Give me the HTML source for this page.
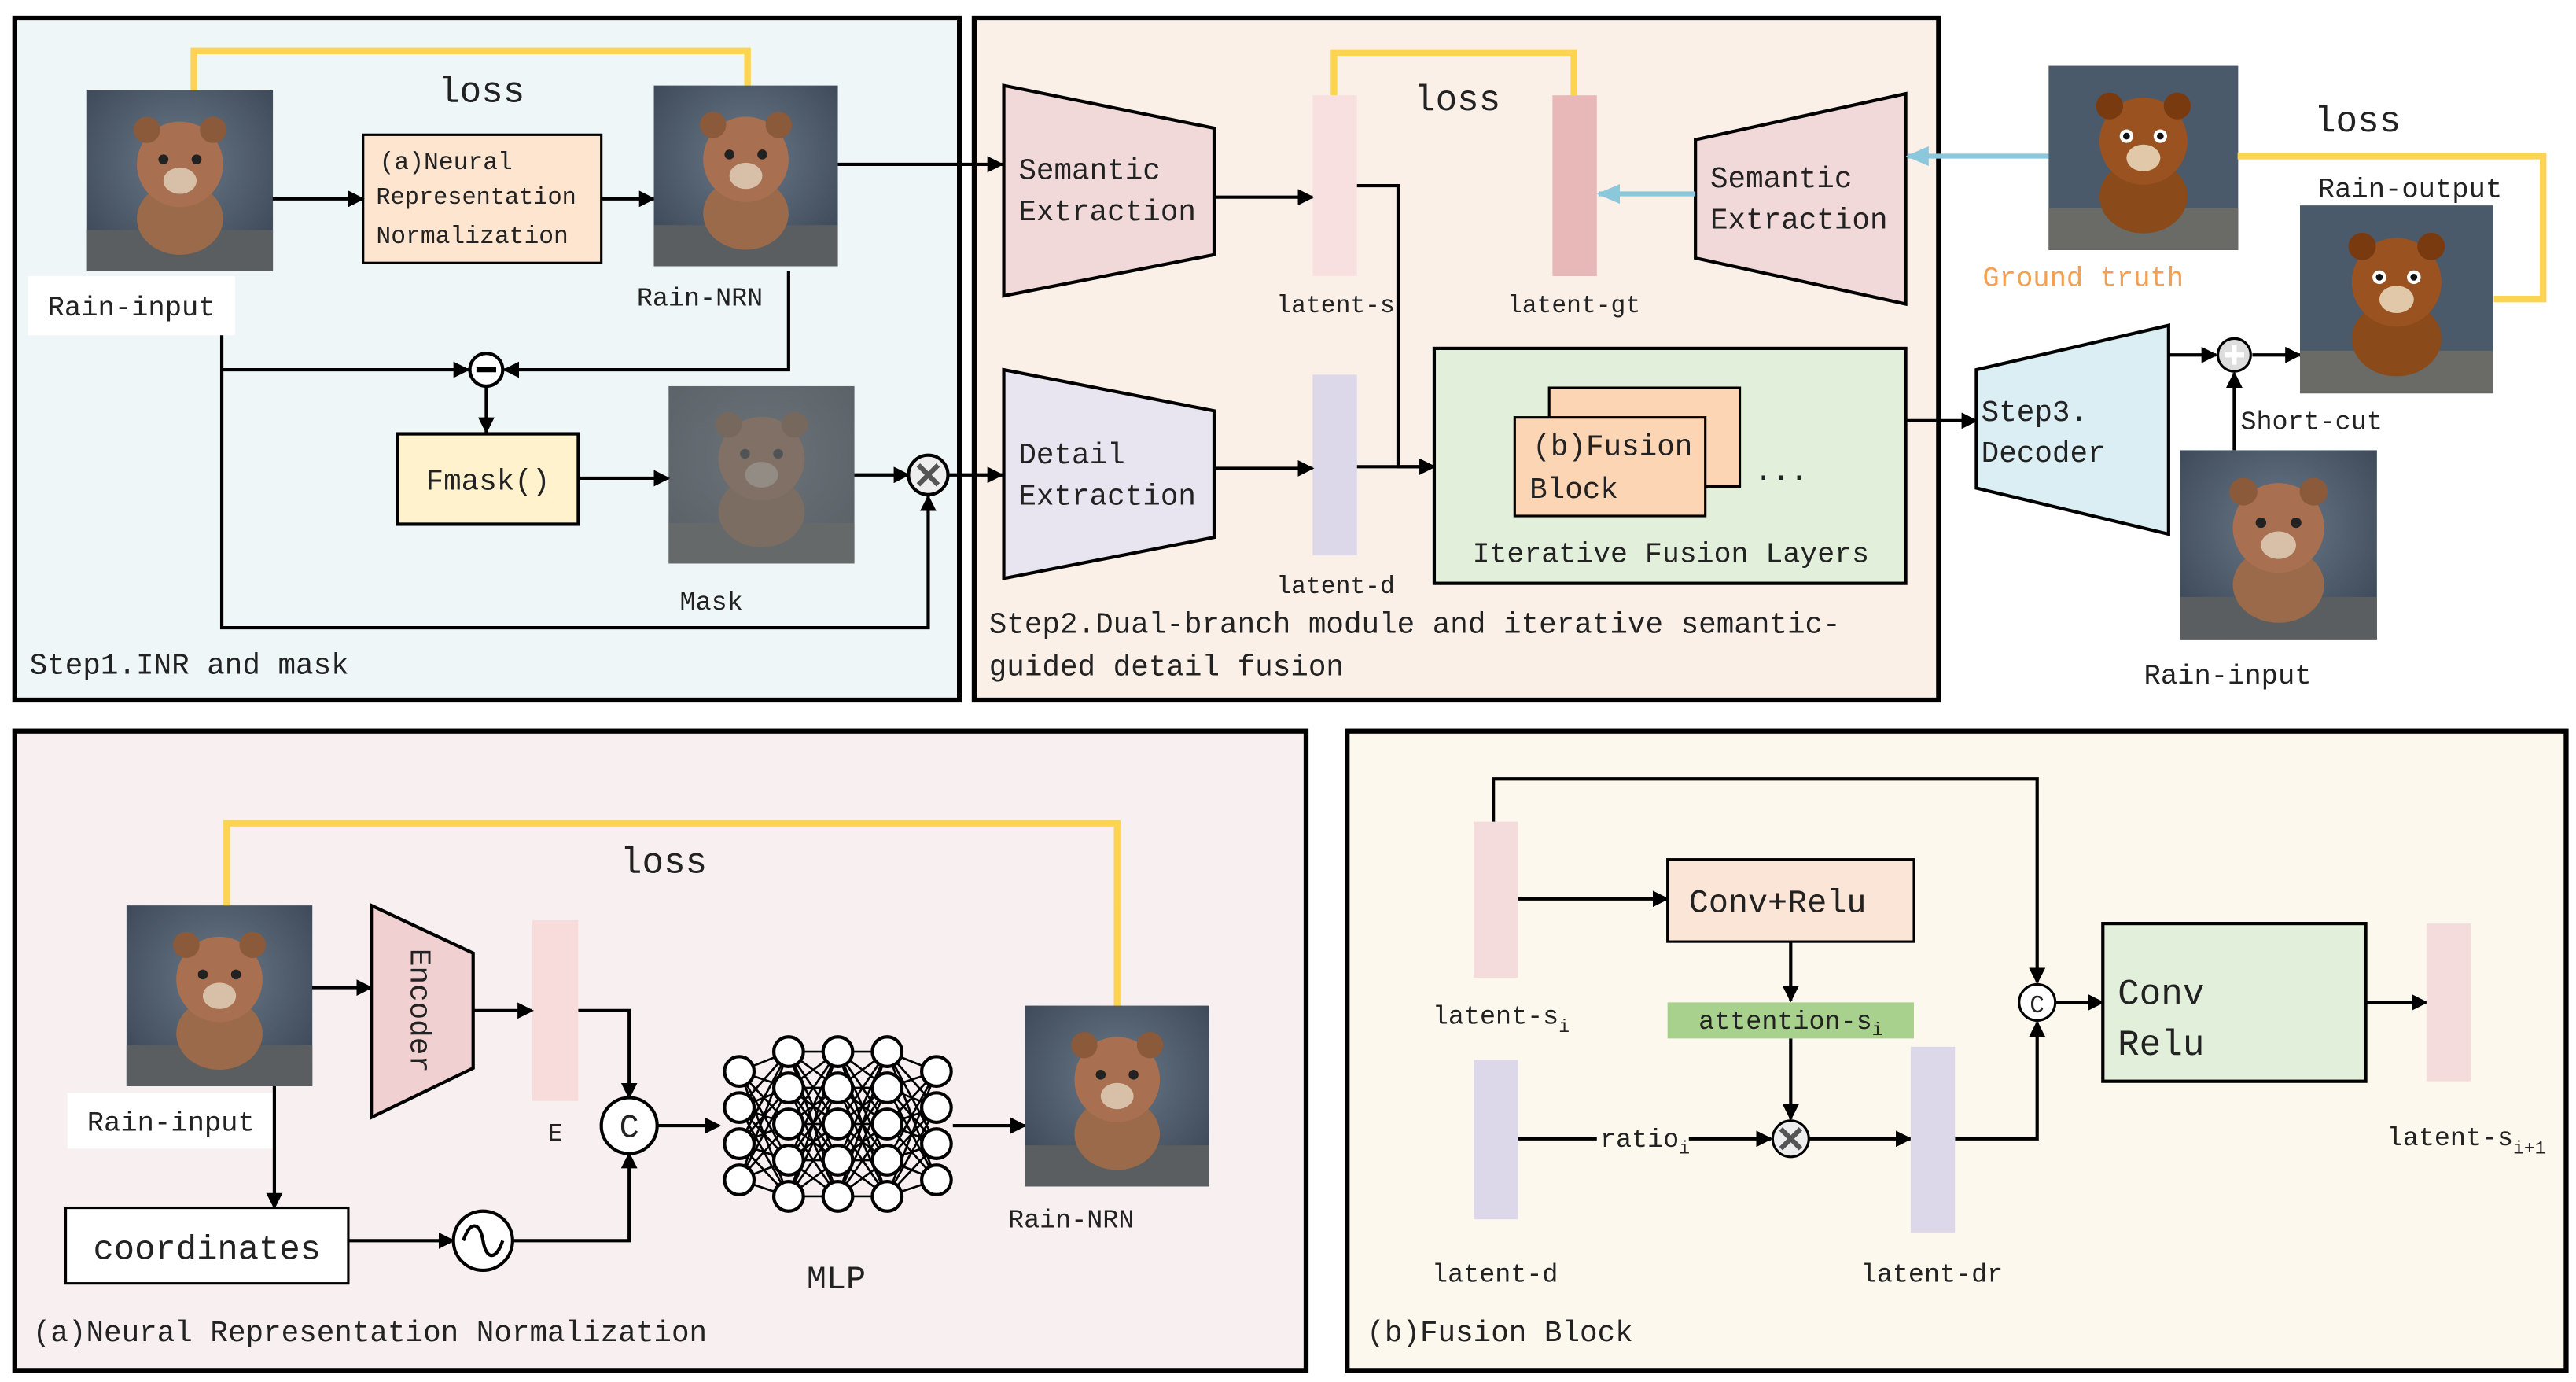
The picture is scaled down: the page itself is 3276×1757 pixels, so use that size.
<!DOCTYPE html>
<html><head><meta charset="utf-8"><style>html,body{margin:0;padding:0;background:#fff}svg{display:block}text{font-family:"Liberation Mono","DejaVu Sans Mono",monospace;fill:#222}</style></head>
<body>
<svg width="3276" height="1757" viewBox="0 0 1568 841" preserveAspectRatio="none" xmlns="http://www.w3.org/2000/svg">
<defs>
<marker id="ar" markerWidth="10" markerHeight="10" refX="9" refY="5" orient="auto" markerUnits="userSpaceOnUse"><path d="M0,0 L10,5 L0,10 z" fill="#000"/></marker>
<marker id="ab" markerWidth="14" markerHeight="12" refX="13" refY="6" orient="auto" markerUnits="userSpaceOnUse"><path d="M0,0 L14,6 L0,12 z" fill="#8cc8dc"/></marker>
<radialGradient id="bg1" cx="50%" cy="40%" r="70%"><stop offset="0" stop-color="#6a7888"/><stop offset="1" stop-color="#3a4656"/></radialGradient>
<g id="bear">
<rect x="0" y="0" width="112" height="110" fill="url(#bg1)"/>
<rect x="0" y="85" width="112" height="25" fill="#5a5e60"/>
<ellipse cx="56" cy="78" rx="26" ry="22" fill="#9a6a4a"/>
<circle cx="56" cy="45" r="26" fill="#a87050"/>
<circle cx="36" cy="24" r="8" fill="#8a5a3a"/><circle cx="76" cy="24" r="8" fill="#8a5a3a"/>
<ellipse cx="56" cy="55" rx="10" ry="8" fill="#d8c0a8"/>
<circle cx="46" cy="42" r="3" fill="#222"/><circle cx="66" cy="42" r="3" fill="#222"/>
</g>
<g id="bearc">
<rect x="0" y="0" width="112" height="110" fill="#4a5a6a"/>
<rect x="0" y="85" width="112" height="25" fill="#6a6a66"/>
<ellipse cx="56" cy="78" rx="26" ry="22" fill="#8a4a1a"/>
<circle cx="56" cy="45" r="26" fill="#9a5220"/>
<circle cx="36" cy="24" r="8" fill="#7a3a10"/><circle cx="76" cy="24" r="8" fill="#7a3a10"/>
<ellipse cx="56" cy="55" rx="10" ry="8" fill="#e0c8a8"/>
<circle cx="46" cy="42" r="4" fill="#fff"/><circle cx="66" cy="42" r="4" fill="#fff"/>
<circle cx="46" cy="42" r="2" fill="#111"/><circle cx="66" cy="42" r="2" fill="#111"/>
</g>
</defs>
<g stroke="#000" stroke-width="3">
<rect x="9" y="11" width="575" height="415" fill="#eef6f8"/>
<rect x="593" y="11" width="587" height="415" fill="#fbf0e8"/>
<rect x="9" y="445" width="786" height="389" fill="#f8f0f0"/>
<rect x="820" y="445" width="742" height="389" fill="#fdf8ee"/>
</g>
<!-- Panel 1 -->
<use href="#bear" transform="translate(53,55) scale(1.01,1)"/>
<rect x="17" y="168" width="126" height="36" fill="#fff"/>
<text x="80" y="192" font-size="17" text-anchor="middle">Rain-input</text>
<polyline points="118,55 118,31 455,31 455,52" fill="none" stroke="#fdd452" stroke-width="4"/>
<text x="293" y="62" font-size="22" text-anchor="middle">loss</text>
<rect x="221" y="82" width="145" height="78" fill="#fde5d0" stroke="#000" stroke-width="1.5"/>
<text x="231" y="103" font-size="15">(a)Neural</text>
<text x="229" y="124" font-size="14.5">Representation</text>
<text x="229" y="148" font-size="15">Normalization</text>
<g stroke="#000" stroke-width="2" fill="none">
<line x1="166" y1="121" x2="221" y2="121" marker-end="url(#ar)"/>
<line x1="366" y1="121" x2="398" y2="121" marker-end="url(#ar)"/>
<line x1="510" y1="100" x2="610" y2="100" marker-end="url(#ar)"/>
<polyline points="480,165 480,225 307,225" marker-end="url(#ar)"/>
<polyline points="135,204 135,382 565,382 565,302" marker-end="url(#ar)"/>
<line x1="135" y1="225" x2="285" y2="225" marker-end="url(#ar)"/>
<line x1="296" y1="235" x2="296" y2="263" marker-end="url(#ar)"/>
<line x1="352" y1="291" x2="407" y2="291" marker-end="url(#ar)"/>
<line x1="520" y1="289" x2="553" y2="289" marker-end="url(#ar)"/>
<line x1="577" y1="289" x2="610" y2="289" marker-end="url(#ar)"/>
</g>
<use href="#bear" transform="translate(398,52)"/>
<text x="426" y="186" font-size="16" text-anchor="middle">Rain-NRN</text>
<circle cx="296" cy="225" r="10" fill="#fff" stroke="#000" stroke-width="2"/>
<line x1="290" y1="225" x2="302" y2="225" stroke="#000" stroke-width="3"/>
<rect x="242" y="264" width="110" height="55" fill="#fff2cc" stroke="#000" stroke-width="2"/>
<text x="297" y="298" font-size="18" text-anchor="middle">Fmask()</text>
<use href="#bear" transform="translate(407,235) scale(1.01,0.98)" opacity="0.55"/>
<rect x="407" y="235" width="113" height="108" fill="#000" opacity="0.35"/>
<text x="433" y="371" font-size="16" text-anchor="middle">Mask</text>
<circle cx="565" cy="289" r="12" fill="#eee" stroke="#000" stroke-width="2"/>
<path d="M559,283 L571,295 M571,283 L559,295" stroke="#555" stroke-width="3"/>
<text x="18" y="410" font-size="18">Step1.INR and mask</text>
<!-- Panel 2 -->
<polygon points="611,52 739,78 739,155 611,180" fill="#f2d9d9" stroke="#000" stroke-width="2"/>
<text x="620" y="109" font-size="18">Semantic</text>
<text x="620" y="134" font-size="18">Extraction</text>
<polyline points="812,58 812,32 958,32 958,58" fill="none" stroke="#fdd452" stroke-width="4"/>
<text x="887" y="67" font-size="22" text-anchor="middle">loss</text>
<rect x="799" y="58" width="27" height="110" fill="#f8e0e0"/>
<text x="813" y="190" font-size="15" text-anchor="middle">latent-s</text>
<rect x="945" y="58" width="27" height="110" fill="#e8b8b8"/>
<text x="958" y="190" font-size="15" text-anchor="middle">latent-gt</text>
<polygon points="1032,85 1160,57 1160,185 1032,157" fill="#f2d9d9" stroke="#000" stroke-width="2"/>
<text x="1041" y="114" font-size="18">Semantic</text>
<text x="1041" y="139" font-size="18">Extraction</text>
<line x1="1032" y1="118" x2="973" y2="118" stroke="#8cc8dc" stroke-width="3" marker-end="url(#ab)"/>
<line x1="1247" y1="95" x2="1161" y2="95" stroke="#8cc8dc" stroke-width="3" marker-end="url(#ab)"/>
<polygon points="611,225 739,250 739,327 611,352" fill="#e8e4f0" stroke="#000" stroke-width="2"/>
<text x="620" y="282" font-size="18">Detail</text>
<text x="620" y="307" font-size="18">Extraction</text>
<rect x="799" y="228" width="27" height="110" fill="#dcd8ea"/>
<text x="813" y="361" font-size="15" text-anchor="middle">latent-d</text>
<g stroke="#000" stroke-width="2" fill="none">
<line x1="739" y1="120" x2="799" y2="120" marker-end="url(#ar)"/>
<polyline points="826,113 851,113 851,284 873,284" marker-end="url(#ar)"/>
<line x1="739" y1="285" x2="799" y2="285" marker-end="url(#ar)"/>
<line x1="826" y1="284" x2="873" y2="284" marker-end="url(#ar)"/>
<line x1="1160" y1="256" x2="1203" y2="256" marker-end="url(#ar)"/>
<line x1="1320" y1="216" x2="1349" y2="216" marker-end="url(#ar)"/>
<line x1="1371" y1="216" x2="1400" y2="216" marker-end="url(#ar)"/>
<line x1="1360" y1="274" x2="1360" y2="227" marker-end="url(#ar)"/>
</g>
<rect x="873" y="212" width="287" height="143" fill="#e2efda" stroke="#000" stroke-width="2"/>
<rect x="943" y="236" width="116" height="60" fill="#fcd5b4" stroke="#000" stroke-width="1.5"/>
<rect x="922" y="254" width="116" height="60" fill="#fcd5b4" stroke="#000" stroke-width="1.5"/>
<text x="933" y="277" font-size="18">(b)Fusion</text>
<text x="931" y="303" font-size="18">Block</text>
<text x="1068" y="292" font-size="18">...</text>
<text x="1017" y="342" font-size="17.5" text-anchor="middle">Iterative Fusion Layers</text>
<text x="602" y="385" font-size="18">Step2.Dual-branch module and iterative semantic-</text>
<text x="602" y="411" font-size="18">guided detail fusion</text>
<!-- right -->
<polygon points="1203,225 1320,198 1320,325 1203,297" fill="#daeef3" stroke="#000" stroke-width="2"/>
<text x="1206" y="256" font-size="18">Step3.</text>
<text x="1206" y="281" font-size="18">Decoder</text>
<circle cx="1360" cy="216" r="10" fill="#ddd" stroke="#000" stroke-width="1.5"/>
<path d="M1354,216 H1366 M1360,210 V222" stroke="#fff" stroke-width="3"/>
<use href="#bearc" transform="translate(1400,125) scale(1.05,1.04)"/>
<text x="1467" y="120" font-size="17" text-anchor="middle">Rain-output</text>
<use href="#bearc" transform="translate(1247,40) scale(1.03,1.02)"/>
<text x="1268" y="174" font-size="17" text-anchor="middle" style="fill:#f4a050">Ground truth</text>
<polyline points="1362,95 1548,95 1548,182 1518,182" fill="none" stroke="#fdd452" stroke-width="4"/>
<text x="1435" y="80" font-size="22" text-anchor="middle">loss</text>
<use href="#bear" transform="translate(1327,274) scale(1.07,1.05)"/>
<text x="1407" y="261" font-size="16" text-anchor="middle">Short-cut</text>
<text x="1356" y="416" font-size="17" text-anchor="middle">Rain-input</text>
<!-- Panel a -->
<use href="#bear" transform="translate(77,551) scale(1.01,1)"/>
<rect x="41" y="665" width="125" height="34" fill="#fff"/>
<text x="104" y="688" font-size="17" text-anchor="middle">Rain-input</text>
<polyline points="138,551 138,501 680,501 680,612" fill="none" stroke="#fdd452" stroke-width="4"/>
<text x="404" y="531" font-size="22" text-anchor="middle">loss</text>
<polygon points="226,551 288,580 288,650 226,680" fill="#f0d0d0" stroke="#000" stroke-width="2"/>
<text x="0" y="0" font-size="18" text-anchor="middle" transform="translate(250,615) rotate(90)">Encoder</text>
<rect x="324" y="560" width="28" height="110" fill="#f8dcdc"/>
<text x="338" y="694" font-size="15" text-anchor="middle">E</text>
<g stroke="#000" stroke-width="2" fill="none">
<line x1="190" y1="601" x2="226" y2="601" marker-end="url(#ar)"/>
<line x1="288" y1="615" x2="324" y2="615" marker-end="url(#ar)"/>
<polyline points="352,615 383,615 383,668" marker-end="url(#ar)"/>
<line x1="400" y1="685" x2="438" y2="685" marker-end="url(#ar)"/>
<line x1="580" y1="685" x2="624" y2="685" marker-end="url(#ar)"/>
<line x1="167" y1="661" x2="167" y2="735" marker-end="url(#ar)"/>
<line x1="212" y1="755" x2="276" y2="755" marker-end="url(#ar)"/>
<polyline points="312,755 383,755 383,702" marker-end="url(#ar)"/>
</g>
<circle cx="383" cy="685" r="17" fill="#fff" stroke="#000" stroke-width="2"/>
<text x="383" y="692" font-size="20" text-anchor="middle">C</text>
<g stroke="#000" stroke-width="1.3">
<path d="M450,652 L480,640 M450,652 L480,662 M450,652 L480,684 M450,652 L480,706 M450,652 L480,728
M450,674 L480,640 M450,674 L480,662 M450,674 L480,684 M450,674 L480,706 M450,674 L480,728
M450,696 L480,640 M450,696 L480,662 M450,696 L480,684 M450,696 L480,706 M450,696 L480,728
M450,718 L480,640 M450,718 L480,662 M450,718 L480,684 M450,718 L480,706 M450,718 L480,728
M480,640 L510,640 M480,640 L510,662 M480,640 L510,684 M480,640 L510,706 M480,640 L510,728
M480,662 L510,640 M480,662 L510,662 M480,662 L510,684 M480,662 L510,706 M480,662 L510,728
M480,684 L510,640 M480,684 L510,662 M480,684 L510,684 M480,684 L510,706 M480,684 L510,728
M480,706 L510,640 M480,706 L510,662 M480,706 L510,684 M480,706 L510,706 M480,706 L510,728
M480,728 L510,640 M480,728 L510,662 M480,728 L510,684 M480,728 L510,706 M480,728 L510,728
M510,640 L540,640 M510,640 L540,662 M510,640 L540,684 M510,640 L540,706 M510,640 L540,728
M510,662 L540,640 M510,662 L540,662 M510,662 L540,684 M510,662 L540,706 M510,662 L540,728
M510,684 L540,640 M510,684 L540,662 M510,684 L540,684 M510,684 L540,706 M510,684 L540,728
M510,706 L540,640 M510,706 L540,662 M510,706 L540,684 M510,706 L540,706 M510,706 L540,728
M510,728 L540,640 M510,728 L540,662 M510,728 L540,684 M510,728 L540,706 M510,728 L540,728
M540,640 L570,652 M540,640 L570,674 M540,640 L570,696 M540,640 L570,718
M540,662 L570,652 M540,662 L570,674 M540,662 L570,696 M540,662 L570,718
M540,684 L570,652 M540,684 L570,674 M540,684 L570,696 M540,684 L570,718
M540,706 L570,652 M540,706 L570,674 M540,706 L570,696 M540,706 L570,718
M540,728 L570,652 M540,728 L570,674 M540,728 L570,696 M540,728 L570,718"/>
</g>
<g fill="#fff" stroke="#000" stroke-width="2">
<circle cx="450" cy="652" r="9"/><circle cx="450" cy="674" r="9"/><circle cx="450" cy="696" r="9"/><circle cx="450" cy="718" r="9"/>
<circle cx="480" cy="640" r="9"/><circle cx="480" cy="662" r="9"/><circle cx="480" cy="684" r="9"/><circle cx="480" cy="706" r="9"/><circle cx="480" cy="728" r="9"/>
<circle cx="510" cy="640" r="9"/><circle cx="510" cy="662" r="9"/><circle cx="510" cy="684" r="9"/><circle cx="510" cy="706" r="9"/><circle cx="510" cy="728" r="9"/>
<circle cx="540" cy="640" r="9"/><circle cx="540" cy="662" r="9"/><circle cx="540" cy="684" r="9"/><circle cx="540" cy="706" r="9"/><circle cx="540" cy="728" r="9"/>
<circle cx="570" cy="652" r="9"/><circle cx="570" cy="674" r="9"/><circle cx="570" cy="696" r="9"/><circle cx="570" cy="718" r="9"/>
</g>
<text x="509" y="784" font-size="20" text-anchor="middle">MLP</text>
<use href="#bear" transform="translate(624,612)"/>
<text x="652" y="747" font-size="16" text-anchor="middle">Rain-NRN</text>
<rect x="40" y="735" width="172" height="46" fill="#fff" stroke="#000" stroke-width="1.5"/>
<text x="126" y="766" font-size="21" text-anchor="middle">coordinates</text>
<circle cx="294" cy="755" r="18" fill="#fff" stroke="#000" stroke-width="2"/>
<path d="M282,755 C286,743 292,743 294,755 C296,767 302,767 306,755" fill="none" stroke="#000" stroke-width="2"/>
<text x="20" y="816" font-size="18">(a)Neural Representation Normalization</text>
<!-- Panel b -->
<rect x="897" y="500" width="27" height="95" fill="#f5dcdc"/>
<text x="872" y="623" font-size="16">latent-s<tspan font-size="11" dy="5">i</tspan></text>
<g stroke="#000" stroke-width="2" fill="none">
<polyline points="909,500 909,474 1240,474 1240,598" marker-end="url(#ar)"/>
<line x1="924" y1="547" x2="1015" y2="547" marker-end="url(#ar)"/>
<line x1="1090" y1="573" x2="1090" y2="609" marker-end="url(#ar)"/>
<line x1="1090" y1="632" x2="1090" y2="681" marker-end="url(#ar)"/>
<line x1="924" y1="693" x2="1078" y2="693" marker-end="url(#ar)"/>
<line x1="1101" y1="693" x2="1163" y2="693" marker-end="url(#ar)"/>
<polyline points="1190,693 1240,693 1240,622" marker-end="url(#ar)"/>
<line x1="1251" y1="610" x2="1280" y2="610" marker-end="url(#ar)"/>
<line x1="1440" y1="610" x2="1477" y2="610" marker-end="url(#ar)"/>
</g>
<rect x="1015" y="523" width="150" height="50" fill="#fbe5d6" stroke="#000" stroke-width="1.5"/>
<text x="1082" y="555" font-size="20" text-anchor="middle">Conv+Relu</text>
<rect x="1015" y="610" width="150" height="22" fill="#a9d18e"/>
<text x="1090" y="626" font-size="16" text-anchor="middle">attention-s<tspan font-size="11" dy="4">i</tspan></text>
<circle cx="1090" cy="693" r="11" fill="#eee" stroke="#000" stroke-width="1.5"/>
<path d="M1084,687 L1096,699 M1096,687 L1084,699" stroke="#555" stroke-width="3"/>
<rect x="897" y="645" width="27" height="97" fill="#dcd8ea"/>
<text x="910" y="780" font-size="16" text-anchor="middle">latent-d</text>
<rect x="972" y="683" width="56" height="20" fill="#fdf8ee"/>
<text x="974" y="698" font-size="16">ratio<tspan font-size="11" dy="4">i</tspan></text>
<rect x="1163" y="637" width="27" height="113" fill="#dcd8ea"/>
<text x="1176" y="780" font-size="16" text-anchor="middle">latent-dr</text>
<circle cx="1240" cy="610" r="11" fill="#fff" stroke="#000" stroke-width="1.5"/>
<text x="1240" y="616" font-size="15" text-anchor="middle">C</text>
<rect x="1280" y="562" width="160" height="96" fill="#e2efda" stroke="#000" stroke-width="2"/>
<text x="1289" y="611" font-size="22">Conv</text>
<text x="1289" y="642" font-size="22">Relu</text>
<rect x="1477" y="562" width="27" height="96" fill="#f5dcdc"/>
<text x="1453" y="697" font-size="16">latent-s<tspan font-size="11" dy="5">i+1</tspan></text>
<text x="832" y="816" font-size="18">(b)Fusion Block</text>
</svg>
</body></html>
